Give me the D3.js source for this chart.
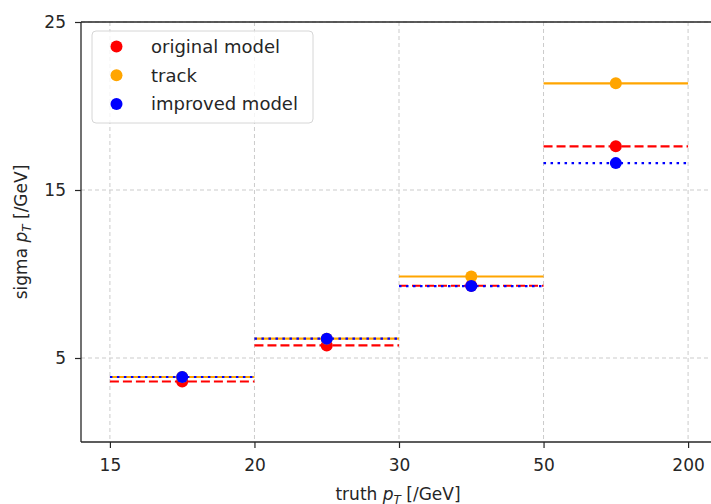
<!DOCTYPE html>
<html>
<head>
<meta charset="utf-8">
<script src="https://cdn.jsdelivr.net/npm/d3@7"></script>
<style>
  body { margin: 0; background: #fff; }
  svg text { font-family: "DejaVu Sans", sans-serif; fill: #262626; }
</style>
</head>
<body>
<svg width="711" height="504"></svg>
<script>
// bin edges (shown as evenly spaced category ticks)
const binEdges = ["15", "20", "30", "50", "200"];
const yTicks = [5, 15, 25];

// sigma values per bin
const original = [3.6, 5.75, 9.3, 17.6];
const track = [3.87, 6.15, 9.85, 21.35];
const improved = [3.87, 6.15, 9.28, 16.6];

const series = [
  {name: "original model", values: original, color: "red", dash: "9,4"},
  {name: "track", values: track, color: "orange", dash: null},
  {name: "improved model", values: improved, color: "blue", dash: "2.5,4.5"}
];

const svg = d3.select("svg");

// plot area
const plotL = 81, plotR = 717, plotT = 22, plotB = 442;

const x = d3.scaleLinear().domain([-0.2, 4.2]).range([plotL, plotR]);
const y = d3.scaleLinear().domain([0, 25]).range([plotB, plotT]);

// grid
const grid = svg.append("g");
grid.selectAll(".gx").data(binEdges).enter().append("line")
  .attr("x1", (d, i) => x(i)).attr("x2", (d, i) => x(i))
  .attr("y1", plotT).attr("y2", plotB)
  .attr("stroke", "#cbcbcb").attr("stroke-dasharray", "4,3");
grid.selectAll(".gy").data(yTicks).enter().append("line")
  .attr("x1", plotL).attr("x2", plotR)
  .attr("y1", d => y(d)).attr("y2", d => y(d))
  .attr("stroke", "#cbcbcb").attr("stroke-dasharray", "4,3");

// steps + markers
series.forEach(s => {
  const g = svg.append("g");
  g.selectAll("line").data(s.values).enter().append("line")
    .attr("x1", (d, i) => x(i)).attr("x2", (d, i) => x(i + 1))
    .attr("y1", d => y(d)).attr("y2", d => y(d))
    .attr("stroke", s.color).attr("stroke-width", 2.2)
    .attr("stroke-dasharray", s.dash);
  g.selectAll("circle").data(s.values).enter().append("circle")
    .attr("cx", (d, i) => x(i + 0.5)).attr("cy", d => y(d))
    .attr("r", 6).attr("fill", s.color);
});

// axes
const xAxis = d3.axisBottom(x)
  .tickValues(d3.range(binEdges.length))
  .tickFormat(i => binEdges[i])
  .tickSizeOuter(0).tickSize(6).tickPadding(11);
const yAxis = d3.axisLeft(y)
  .tickValues(yTicks).tickSizeOuter(0).tickSize(6).tickPadding(9);

const gx = svg.append("g").attr("transform", `translate(0,${plotB})`).call(xAxis);
const gy = svg.append("g").attr("transform", `translate(${plotL},0)`).call(yAxis);
[gx, gy].forEach(g => {
  g.select(".domain").remove();
  g.selectAll("text").style("font-size", "17px").attr("fill", "#262626");
  g.selectAll("line").attr("stroke", "#262626").attr("stroke-width", 1.2);
});

// spines
svg.append("line").attr("x1", plotL).attr("x2", plotR).attr("y1", plotB).attr("y2", plotB)
  .attr("stroke", "#262626").attr("stroke-width", 1.3);
svg.append("line").attr("x1", plotL).attr("x2", plotR).attr("y1", plotT).attr("y2", plotT)
  .attr("stroke", "#262626").attr("stroke-width", 1.3);
svg.append("line").attr("x1", plotL).attr("x2", plotL).attr("y1", plotT).attr("y2", plotB)
  .attr("stroke", "#262626").attr("stroke-width", 1.3);

// axis labels
const xl = svg.append("text").attr("x", 398).attr("y", 500)
  .attr("text-anchor", "middle").style("font-size", "17px");
xl.append("tspan").text("truth ");
xl.append("tspan").style("font-style", "italic").text("p");
xl.append("tspan").attr("dy", 4).style("font-size", "12px").style("font-style", "italic").text("T");
xl.append("tspan").attr("dy", -4).text(" [/GeV]");

const yl = svg.append("text")
  .attr("transform", `translate(27,232) rotate(-90)`)
  .attr("text-anchor", "middle").style("font-size", "17px");
yl.append("tspan").text("sigma ");
yl.append("tspan").style("font-style", "italic").text("p");
yl.append("tspan").attr("dy", 4).style("font-size", "12px").style("font-style", "italic").text("T");
yl.append("tspan").attr("dy", -4).text(" [/GeV]");

// legend
const leg = svg.append("g").attr("transform", "translate(92,31)");
leg.append("rect").attr("width", 221).attr("height", 92).attr("rx", 4)
  .attr("fill", "white").attr("fill-opacity", 0.8)
  .attr("stroke", "#d6d6d6");
series.forEach((s, i) => {
  leg.append("circle").attr("cx", 24.5).attr("cy", 15.5 + i * 28.7).attr("r", 6).attr("fill", s.color);
  leg.append("text").attr("x", 59).attr("y", 15.5 + i * 28.7).attr("dy", "0.35em")
    .style("font-size", "18px").text(s.name);
});
</script>
</body>
</html>
